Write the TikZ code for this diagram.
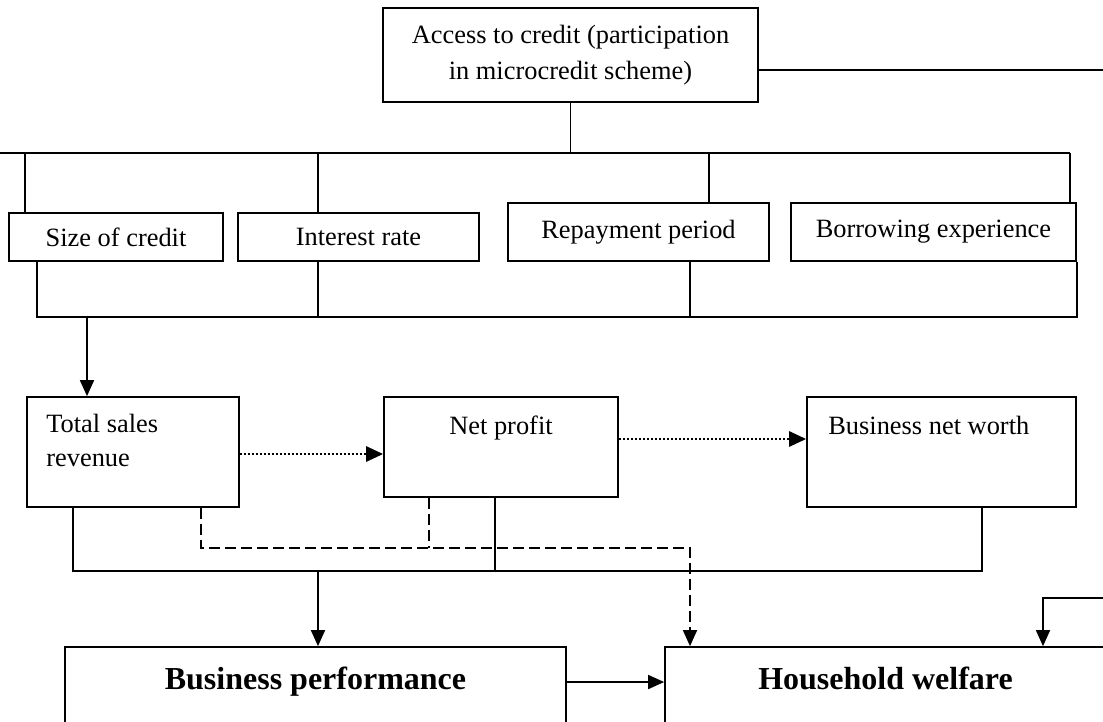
\documentclass[tikz,border=0pt]{standalone}
\usepackage{fontspec}
\setmainfont{Liberation Serif}
\usetikzlibrary{arrows.meta}
\tikzset{
  box/.style={draw,line width=1.7pt,inner sep=0pt,align=center},
  lbl/.style={inner sep=0pt},
  link/.style={line width=1.7pt},
  arr/.style={link,-{Triangle[length=16pt,width=14pt]}},
  dotarr/.style={line width=2.8pt,dash pattern=on 2.4pt off 1.6pt,-{Triangle[length=17pt,width=15pt]}},
  dashline/.style={link,dash pattern=on 11pt off 5pt},
  dasharr/.style={dashline,-{Triangle[length=16pt,width=14pt]}},
  boldtxt/.style={font=\fontsize{32}{38}\selectfont\bfseries},
}
\begin{document}
\begin{tikzpicture}[x=1pt,y=-1pt,font=\fontsize{26.4}{36}\selectfont]
    \useasboundingbox (0,0) rectangle (1103,722);
    \clip (0,0) rectangle (1103,722);
    % boxes
    \node[box,minimum width=375,minimum height=94] (access) at (570.5,55) {Access to credit (participation\\in microcredit scheme)};
    \node[box,minimum width=214,minimum height=48] (size) at (116,237) {Size of credit};
    \node[box,minimum width=241,minimum height=48] (rate) at (358.5,237) {Interest rate};
    \node[box,minimum width=261,minimum height=58] (repay) at (638.5,232) {Repayment period};
    \node[box,minimum width=285,minimum height=58] (borrow) at (933.5,232) {Borrowing experience};
    \node[box,minimum width=212,minimum height=110] (sales) at (133,452) {};
    \node[box,minimum width=234,minimum height=100] (profit) at (501,447) {};
    \node[box,minimum width=269,minimum height=110] (worth) at (941.5,452) {};
    \node[box,minimum width=501,minimum height=140] (perf) at (315.5,717) {};
    \node[box,minimum width=441,minimum height=140] (welfare) at (885.5,717) {};
    % texts at the top of the boxes
    \node[lbl,anchor=north west,align=left] (salestxt) at ([xshift=20pt,yshift=-18pt]sales.north west) {Total sales\\[-2pt]revenue};
    \node[lbl,anchor=north] (profittxt) at ([yshift=-20pt]profit.north) {Net profit};
    \node[lbl,anchor=north west] (worthtxt) at ([xshift=22pt,yshift=-20pt]worth.north west) {Business net worth};
    \node[lbl,boldtxt,anchor=north] (perftxt) at ([yshift=-21pt]perf.north) {Business performance};
    \node[lbl,boldtxt,anchor=north] (welfaretxt) at ([yshift=-21pt]welfare.north) {Household welfare};
    % upper bus
    \coordinate (b0) at (-5,153);
    \coordinate (b1) at (25,153);
    \coordinate (b2) at (318,153);
    \coordinate (b3) at (709,153);
    \coordinate (b4) at (1070,153);
    \draw[link] (access.south) -- (access.south |- b1);
    \draw[link] (b0) -- (b4);
    \draw[link] (b1) -- (b1 |- size.north);
    \draw[link] (b2) -- (b2 |- rate.north);
    \draw[link] (b3) -- (b3 |- repay.north);
    \draw[link] (b4) -- (b4 |- borrow.north);
    % middle bus
    \coordinate (m0) at (87,317);
    \coordinate (m1) at (37,317);
    \coordinate (m2) at (318,317);
    \coordinate (m3) at (690,317);
    \draw[link] (m1 |- size.south) -- (m1) -- (m1 -| borrow.south east) -- (borrow.south east);
    \draw[link] (m2 |- rate.south) -- (m2);
    \draw[link] (m3 |- repay.south) -- (m3);
    \draw[arr] (m0) -- (m0 |- sales.north);
    % dotted arrows
    \draw[dotarr] ([yshift=-2pt]sales.east) -- ([yshift=-2pt]sales.east -| profit.west);
    \draw[dotarr] ([yshift=8pt]profit.east) -- ([yshift=8pt]profit.east -| worth.west);
    % lower bus
    \coordinate (l0) at (318,571);
    \coordinate (l1) at (73,571);
    \coordinate (l2) at (495,571);
    \coordinate (l3) at (982,571);
    \draw[link] (l1 |- sales.south) -- (l1) -- (l3) -- (l3 |- worth.south);
    \draw[link] (l2 |- profit.south) -- (l2);
    \draw[arr] (l0) -- (l0 |- perf.north);
    % dashed path
    \coordinate (d1) at (201,548);
    \coordinate (d2) at (429,548);
    \coordinate (d3) at (690,548);
    \draw[dasharr] (d1 |- sales.south) -- (d1) -- (d3) -- (d3 |- welfare.north);
    \draw[dashline] (d2 |- profit.south) -- (d2);
    % performance to welfare
    \draw[arr] (perf.east |- perftxt) -- (welfare.west |- perftxt);
    % loop on the right
    \coordinate (r1) at (1115,70);
    \coordinate (r2) at (1115,598);
    \coordinate (r3) at (1043,598);
    \draw[arr] ([yshift=-15pt]access.east) -- (r1) -- (r2) -- (r3) -- (r3 |- welfare.north);
\end{tikzpicture}
\end{document}
